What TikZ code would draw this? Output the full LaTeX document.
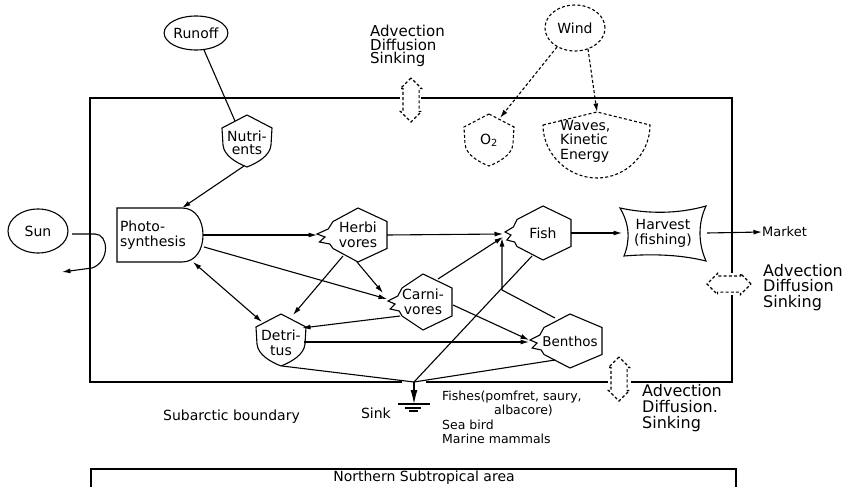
\documentclass[tikz,border=0pt]{standalone}
\usepackage{fontspec}
\setmainfont{DejaVu Sans}
\usetikzlibrary{shapes.geometric,shapes.arrows,arrows.meta,calc}
\newcommand\myfs[2]{\fontsize{#1}{#2}\selectfont}
% zig-zag hexagon: name, right half width, half height, left vertex dist, zigzag depth
\newcommand\zhex[5]{%
  \draw[lw,shift={(#1.center)}] (0,-#3) -- (#2,-#3/2) -- (#2,#3/2) -- (0,#3)
    -- (-#4,#3/2) -- (-#4-0.2*#5,9) -- (-#4-0.85*#5,7) -- (-#4-0.5*#5,2)
    -- (-#4-#5,-1) -- (-#4-0.3*#5,-6) -- (-#4,-#3/2) -- cycle;}
% shield: name, y offset, extra style
\newcommand\shield[3]{%
  \draw[lw,#3,shift={($(#1.center)+(0,#2)$)}] (0,-26) -- (25,-13) -- (24,4)
    .. controls (23,15) and (10,22) .. (0,26)
    .. controls (-10,22) and (-23,15) .. (-24,4) -- (-25,-13) -- cycle;}
\begin{document}
\begin{tikzpicture}[x=1pt,y=-1pt,
  lw/.style={line width=1.1pt},
  arr/.style={lw,-{Latex[length=8.5pt,width=5pt]}},
  dsh/.style={dash pattern=on 3pt off 2.2pt},
  lbl/.style={inner sep=0pt, align=center, font=\myfs{14}{15}},
  adv/.style={inner sep=0pt, align=left, anchor=north west},
  small/.style={inner sep=0pt, anchor=west, font=\myfs{12.5}{14}},
  darr/.style={double arrow, draw, lw, dsh, minimum height=44pt,
               inner xsep=0pt, inner ysep=7.5pt,
               double arrow head extend=2.5pt},
]
\useasboundingbox (0,0) rectangle (847,487);

% ---- outer boxes ----
\draw[lw] (400,98) -- (90,98) -- (90,382) -- (402,382);
\draw[lw] (426,382) -- (608,382);
\draw[lw] (631,382) -- (732,382) -- (732,295);
\draw[lw] (732,273) -- (732,98) -- (421,98);
\draw[lw] (91,487) -- (91,469) -- (736,469) -- (736,487);

% ---- nodes ----
\node[lbl,draw,lw,ellipse,minimum width=60pt,minimum height=44pt] (sun) at (38,231) {Sun};
\node[lbl,draw,lw,ellipse,minimum width=60pt,minimum height=34pt] (runoff) at (196,33) {Runoff};
\node[lbl,draw,lw,dsh,ellipse,minimum width=60pt,minimum height=46pt] (wind) at (575,28) {Wind};

\node[lbl,font=\myfs{14}{13}] (nutr) at (247,143) {Nutri-\\ents};
\shield{nutr}{-2}{}
\node[lbl,font=\myfs{14}{14.5}] (det) at (281,343) {Detri-\\tus};
\shield{det}{-3}{}
\node[lbl] (otwo) at (489,140) {O\textsubscript{2}};
\shield{otwo}{0}{dsh}

\node[lbl,align=left,anchor=west,font=\myfs{14}{14.5}] (waves) at (560,141) {Waves,\\Kinetic\\Energy};
\draw[lw,dsh] (543,125) -- (597,112) -- (650,125)
  .. controls (650,154) and (626,178) .. (597,178)
  .. controls (568,178) and (543,154) .. (543,125) -- cycle;
\coordinate (wvtop) at (597,112);

\node[lbl,align=left,text width=80pt,inner sep=0pt] (photo) at (160,235) {Photo-\\synthesis};
\draw[lw,shift={(photo.center)}] (-43,-27) -- (22,-27)
  .. controls (36,-27) and (43,-14) .. (43,0)
  .. controls (43,14) and (36,27) .. (22,27) -- (-43,27) -- cycle;

\node[lbl] (herb) at (358,235) {Herbi\\vores};
\zhex{herb}{29}{27}{25}{16}
\node[lbl] (carn) at (423,302) {Carni-\\vores};
\zhex{carn}{29}{28}{21}{14}
\node[lbl] (fish) at (543,233) {Fish};
\zhex{fish}{28}{27}{26}{12}
\node[lbl,font=\myfs{13.5}{14}] (benth) at (570,341) {Benthos};
\zhex{benth}{32}{27}{26}{14}

\node[lbl] (harv) at (663,233) {Harvest\\(fishing)};
\draw[lw,shift={(harv.center)}] (-43,-25) .. controls (-15,-19) and (15,-19) .. (43,-27)
  .. controls (35,-10) and (35,10) .. (43,28)
  .. controls (15,21) and (-15,21) .. (-39,23)
  .. controls (-33,8) and (-33,-8) .. cycle;

\node[anchor=west,inner sep=0pt,font=\myfs{13}{13}] (market) at (762,232) {Market};

% double arrows (advection)
\node[darr,rotate=90] (advT) at (411,100) {};
\node[darr] (advR) at (729,284) {};
\node[darr,rotate=90] (advB) at (619,379) {};
\node[adv,font=\myfs{15}{13.5}] (advTt) at (370,25) {Advection\\Diffusion\\Sinking};
\node[adv,font=\myfs{16}{15.5}] (advRt) at (763,264) {Advection\\Diffusion\\Sinking};
\node[adv,font=\myfs{16}{16}] (advBt) at (642,384) {Advection\\Diffusion.\\Sinking};

% sink
\coordinate (conv) at (414,382);
\coordinate (sinkend) at (414,404);
\draw[lw] (398,404) -- (430,404);
\draw[lw] (405,408) -- (421,408);
\draw[lw] (409,411) -- (418,411);
\node[anchor=east,inner sep=0pt,font=\myfs{14}{14}] (sinklbl) at (391,413) {Sink};
\node[small] (fish1) at (442,397) {Fishes(pomfret, saury,};
\node[small,anchor=east] (fish2) at (553,411) {albacore)};
\node[small] (fish3) at (442,425) {Sea bird};
\node[small] (fish4) at (442,439) {Marine mammals};
\node[anchor=east,inner sep=0pt,font=\myfs{14}{14}] (subarc) at (300,417) {Subarctic boundary};
\node[inner sep=0pt,font=\myfs{14}{14}] (north) at (424,478) {Northern Subtropical area};

% ---- connectors ----
\draw[lw] ($(runoff)+(8,17)$) -- ($(nutr)+(-12,-22)$);
\draw[arr] ($(nutr)+(-3,23)$) -- ($(photo)+(22,-27)$);
\draw[arr,dsh] ($(wind)+(-18,19)$) -- ($(otwo)+(11,-22)$);
\draw[arr,dsh] ($(wind)+(13,21)$) -- (wvtop);
\draw[arr] ($(sun)+(34,3)$) -- ($(sun)+(57,3)$)
  .. controls ($(sun)+(71,3)$) and ($(sun)+(72,31)$) .. ($(sun)+(54,37)$) -- ($(sun)+(24,41)$);

\draw[arr] ($(photo)+(43,0)$) -- ($(herb)+(-41,0)$);
\draw[arr] ($(photo)+(44,12)$) -- ($(carn)+(-36,-3)$);
\draw[lw,{Latex[length=8.5pt,width=5pt]}-{Latex[length=8.5pt,width=5pt]}] ($(photo)+(33,27)$) -- ($(det)+(-19,-21)$);
\draw[arr] ($(herb)+(-15,21)$) -- ($(det)+(12,-28)$);
\draw[arr] ($(herb)+(-1,27)$) -- ($(carn)+(-40,-9)$);
\draw[arr] ($(herb)+(29,0)$) -- ($(fish)+(-40,1)$);
\draw[arr] ($(carn)+(-23,14)$) -- ($(det)+(21,-15)$);
\draw[arr] ($(carn)+(15,-23)$) -- ($(fish)+(-40,4)$);
\draw[arr] ($(carn)+(30,3)$) -- ($(benth)+(-41,-1)$);
\draw[arr] ($(det)+(23,-1)$) -- ($(benth)+(-41,1)$);
\draw[arr] ($(fish)+(28,0)$) -- ($(harv)+(-41,0)$);
\draw[arr] ($(harv)+(44,0)$) -- (market.west);
\draw[arr] ($(benth)+(-15,-23)$) -- ($(fish)+(-41,57)$) -- ($(fish)+(-41,5)$);
\draw[lw] ($(fish)+(-11,23)$) -- (conv);
\draw[lw] ($(det)+(1,23)$) -- (conv);
\draw[lw] ($(benth)+(-15,19)$) -- (conv);
\draw[lw,-{Latex[length=14pt,width=7pt]}] (conv) -- (sinkend);
\end{tikzpicture}
\end{document}
